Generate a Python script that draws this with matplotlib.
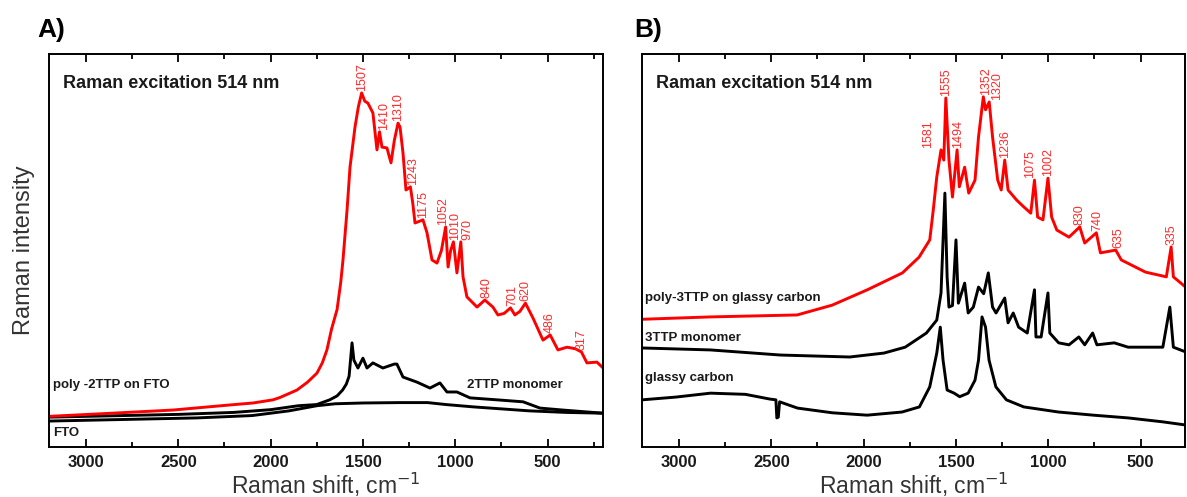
import matplotlib.pyplot as plt
from matplotlib.ticker import MultipleLocator

plt.rcParams['font.family'] = ['Liberation Sans', 'DejaVu Sans']

# ---- Panel A: poly-2TTP on FTO, 2TTP monomer, bare FTO ----
a_poly_w = [3200, 2900, 2530, 2220, 2095, 1987, 1949, 1857, 1800, 1749, 1720, 1695,
            1670, 1640, 1620, 1608, 1586, 1570, 1543, 1525, 1507, 1490, 1473, 1446,
            1424, 1410, 1397, 1370, 1348, 1330, 1310, 1299, 1283, 1267, 1243, 1230,
            1218, 1175, 1153, 1126, 1099, 1075, 1052, 1039, 1025, 1010, 991, 970,
            958, 937, 882, 840, 796, 769, 735, 701, 677, 650, 620, 579, 525, 486,
            444, 395, 350, 317, 287, 233, 206]
a_poly_v = [7.8, 8.5, 9.4, 10.7, 11.2, 12.0, 12.6, 14.5, 16.5, 18.8, 21.4, 24.7,
            30.0, 35.0, 42.0, 47.6, 60.3, 71.2, 81.4, 86.5, 90.1, 88.0, 87.5, 85.0,
            75.6, 80.2, 76.3, 76.1, 72.3, 78.0, 82.4, 81.4, 74.8, 65.4, 66.2, 62.0,
            57.0, 57.8, 54.5, 47.6, 46.8, 50.0, 56.0, 45.8, 50.0, 52.2, 44.3, 52.2,
            43.3, 38.2, 35.6, 37.4, 35.6, 33.6, 34.0, 35.4, 33.6, 34.5, 36.6, 32.8,
            27.2, 28.5, 24.7, 25.4, 25.0, 24.2, 21.4, 21.6, 20.4]

a_mono_w = [3200, 2800, 2500, 2200, 2000, 1850, 1750, 1680, 1640, 1610, 1590, 1575,
            1559, 1549, 1527, 1500, 1478, 1446, 1392, 1330, 1316, 1283, 1207, 1137,
            1083, 1045, 991, 920, 774, 633, 541, 417, 200]
a_mono_v = [7.6, 8.0, 8.3, 8.8, 9.5, 10.5, 10.8, 12.0, 13.0, 14.5, 16.0, 18.0,
            26.5, 22.1, 20.1, 22.6, 20.1, 21.4, 20.1, 21.1, 21.1, 17.8, 16.5, 15.0,
            16.3, 14.0, 14.0, 12.5, 12.0, 11.5, 9.9, 9.4, 8.6]

a_fto_w = [3200, 2800, 2400, 2100, 1900, 1750, 1650, 1500, 1300, 1150, 1050, 900,
           750, 600, 400, 200]
a_fto_v = [6.6, 7.0, 7.4, 8.0, 9.2, 10.5, 11.0, 11.2, 11.3, 11.3, 10.8, 10.2,
           9.7, 9.2, 8.8, 8.6]

a_peaks = [1507, 1410, 1310, 1243, 1175, 1052, 1010, 970, 840, 701, 620, 486, 317]
a_peak_v = [90.1, 80.2, 82.4, 66.2, 57.8, 56.0, 52.2, 52.2, 37.4, 35.4, 36.6, 28.5, 24.2]
a_label_dx = [0, 3, 0, 2, 0, -2, 1, 5, 1, 1, 0, 0, 0]

# ---- Panel B: poly-3TTP on glassy carbon, 3TTP monomer, glassy carbon ----
b_poly_w = [3200, 2830, 2360, 2170, 1980, 1790, 1700, 1642, 1623, 1604, 1581, 1566,
            1555, 1538, 1519, 1494, 1482, 1453, 1431, 1397, 1378, 1352, 1340, 1320,
            1302, 1274, 1255, 1236, 1218, 1171, 1133, 1095, 1075, 1058, 1029, 1002,
            982, 954, 888, 830, 803, 740, 718, 635, 605, 474, 361, 335, 323, 257]
b_poly_v = [32.5, 33.1, 33.6, 36.1, 40.0, 44.3, 48.3, 52.7, 60.3, 68.7, 75.6, 73.0,
            88.8, 73.0, 63.6, 75.6, 66.2, 71.2, 64.6, 67.9, 78.9, 89.1, 85.8, 87.8,
            78.9, 67.9, 65.4, 73.0, 65.4, 62.8, 61.1, 59.5, 67.9, 58.5, 57.8, 68.4,
            58.5, 55.2, 53.4, 56.0, 51.9, 54.5, 49.4, 50.1, 47.6, 44.5, 43.3, 50.9,
            43.3, 40.7]

b_mono_w = [3200, 2830, 2450, 2075, 1890, 1775, 1660, 1604, 1581, 1560, 1548, 1538,
            1519, 1500, 1487, 1453, 1434, 1406, 1378, 1350, 1325, 1302, 1283, 1236,
            1218, 1190, 1161, 1114, 1075, 1067, 1039, 1002, 992, 944, 888, 835, 803,
            760, 737, 643, 568, 380, 342, 323, 257]
b_mono_v = [25.2, 24.7, 23.4, 22.9, 23.9, 25.4, 29.0, 32.3, 39.2, 64.6, 43.3, 35.6,
            36.0, 52.7, 36.6, 41.7, 34.1, 35.6, 40.7, 39.0, 44.3, 35.6, 34.1, 37.9,
            31.6, 34.1, 30.5, 29.0, 40.0, 28.0, 28.0, 39.2, 29.0, 26.5, 26.0, 28.0, 26.0,
            29.0, 26.0, 26.5, 25.4, 25.4, 35.6, 25.4, 24.2]

b_gc_w = [3200, 3017, 2829, 2640, 2508, 2475, 2470, 2462, 2455, 2358, 2169, 1981,
          1792, 1698, 1642, 1604, 1585, 1570, 1548, 1510, 1480, 1434, 1397, 1378,
          1359, 1340, 1321, 1284, 1227, 1133, 945, 756, 568, 380, 257]
b_gc_v = [12.0, 12.7, 13.7, 13.4, 12.2, 12.0, 7.4, 7.6, 11.5, 9.9, 8.7, 8.1,
          8.9, 10.2, 15.3, 23.9, 30.5, 22.1, 14.5, 13.7, 12.8, 13.7, 17.0, 22.1,
          33.1, 30.5, 22.1, 15.3, 12.0, 10.2, 8.9, 8.1, 7.4, 6.4, 5.6]

b_peaks = [1581, 1555, 1494, 1352, 1320, 1236, 1075, 1002, 830, 740, 635, 335]
b_peak_v = [75.6, 88.8, 75.6, 89.1, 87.8, 73.0, 67.9, 68.4, 56.0, 54.5, 50.1, 50.9]
b_label_dx = [-9, 0, 1, 2, 6, 0, -3, 0, 0, 1, 2, 0]

RED = '#ff0000'
LABEL_RED = '#ff2a2a'
INK = '#1a1a1a'


def style_axes(ax, xmax_right):
    ax.set_xlim(3200, xmax_right)
    ax.set_ylim(0, 100)
    ax.xaxis.set_major_locator(MultipleLocator(500))
    ax.xaxis.set_minor_locator(MultipleLocator(250))
    ax.tick_params(axis='x', which='both', direction='in', top=True, bottom=True,
                   width=1.3, pad=6)
    ax.tick_params(axis='x', which='major', length=6)
    ax.tick_params(axis='x', which='minor', length=3.5)
    ax.set_yticks([])
    for lab in ax.get_xticklabels():
        lab.set_fontsize(12)
        lab.set_fontweight('bold')
        lab.set_color(INK)
    for sp in ax.spines.values():
        sp.set_linewidth(1.4)
    ax.set_xlabel('Raman shift, cm$^{-1}$', fontsize=16.5, color='#333333', labelpad=0)
    ax.text(0.025, 0.926, 'Raman excitation 514 nm', transform=ax.transAxes,
            fontsize=13, fontweight='bold', color=INK, va='center')


def peak_labels(ax, peaks, vals, dx):
    for w, v, d in zip(peaks, vals, dx):
        ax.annotate(str(w), xy=(w, v), xytext=(d, 1.5), textcoords='offset points',
                    rotation=90, ha='center', va='bottom', fontsize=9,
                    color=LABEL_RED)


fig = plt.figure(figsize=(11.87, 4.97), dpi=100)

# Panel A
axA = fig.add_axes([49 / 1187, 50 / 497, 554 / 1187, 393 / 497])
axA.plot(a_fto_w, a_fto_v, color='black', lw=2.1)
axA.plot(a_mono_w, a_mono_v, color='black', lw=2.1)
axA.plot(a_poly_w, a_poly_v, color=RED, lw=2.1)
style_axes(axA, 200)
peak_labels(axA, a_peaks, a_peak_v, a_label_dx)
axA.set_ylabel('Raman intensity', fontsize=17, color='#333333', labelpad=10)
small = dict(fontsize=9.5, fontweight='bold', color=INK, va='center',
             transform=axA.transAxes)
axA.text(0.008, 0.158, 'poly -2TTP on FTO', **small)
axA.text(0.008, 0.036, 'FTO', **small)
axA.text(0.755, 0.158, '2TTP monomer', **small)

# Panel B
axB = fig.add_axes([642 / 1187, 50 / 497, 543 / 1187, 393 / 497])
axB.plot(b_gc_w, b_gc_v, color='black', lw=2.1)
axB.plot(b_mono_w, b_mono_v, color='black', lw=2.1)
axB.plot(b_poly_w, b_poly_v, color=RED, lw=2.1)
style_axes(axB, 260)
peak_labels(axB, b_peaks, b_peak_v, b_label_dx)
smallB = dict(small, transform=axB.transAxes)
axB.text(0.006, 0.379, 'poly-3TTP on glassy carbon', **smallB)
axB.text(0.006, 0.277, '3TTP monomer', **smallB)
axB.text(0.006, 0.176, 'glassy carbon', **smallB)

fig.text(37 / 1187, 1 - 30 / 497, 'A)', fontsize=19, fontweight='bold', va='center')
fig.text(634 / 1187, 1 - 30 / 497, 'B)', fontsize=19, fontweight='bold', va='center')

fig.savefig('out.png', dpi=100)
